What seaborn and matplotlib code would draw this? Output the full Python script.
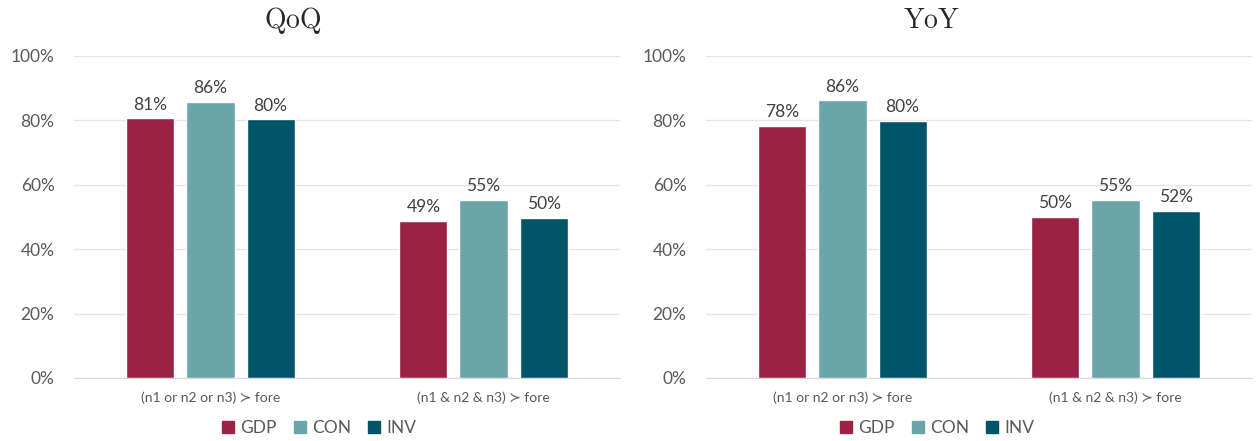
import pandas as pd
import matplotlib.pyplot as plt
import seaborn as sns
from matplotlib.patches import Patch

# data
categories = ["(n1 or n2 or n3) \u227b fore", "(n1 & n2 & n3) \u227b fore"]
series = ["GDP", "CON", "INV"]
qoq_gdp = [0.806, 0.488]
qoq_con = [0.857, 0.553]
qoq_inv = [0.803, 0.497]
yoy_gdp = [0.783, 0.500]
yoy_con = [0.863, 0.553]
yoy_inv = [0.798, 0.519]
colors = ["#9B2242", "#6CA5A7", "#005468"]

sns.set_style("white")
plt.rcParams['font.family'] = ['Lato', 'DejaVu Sans']
plt.rcParams['mathtext.fontset'] = 'cm'


def make_df(gdp, con, inv):
    rows = []
    for name, vals in zip(series, [gdp, con, inv]):
        for c, v in zip(categories, vals):
            rows.append({"cat": c, "series": name, "val": v})
    return pd.DataFrame(rows)


fig = plt.figure(figsize=(12.57, 4.41), dpi=100)
ax1 = fig.add_axes([74 / 1257, 63 / 441, 546 / 1257, 322 / 441])
ax2 = fig.add_axes([706 / 1257, 63 / 441, 546 / 1257, 322 / 441])

panels = [
    (ax1, make_df(qoq_gdp, qoq_con, qoq_inv), "QoQ", 293, 319),
    (ax2, make_df(yoy_gdp, yoy_con, yoy_inv), "YoY", 932, 937),
]

for ax, df, title, tx, lx in panels:
    sns.barplot(data=df, x="cat", y="val", hue="series", hue_order=series,
                palette=colors, saturation=1, width=0.66, gap=0.2,
                legend=False, ax=ax)
    for cont in ax.containers:
        labels = [f"{round(b.get_height() * 100)}%" for b in cont]
        ax.bar_label(cont, labels=labels, padding=4, fontsize=12.5, color="#404040")
    ax.set_ylim(0, 1)
    ax.set_yticks([0, 0.2, 0.4, 0.6, 0.8, 1.0])
    ax.set_yticklabels(["0%", "20%", "40%", "60%", "80%", "100%"])
    ax.yaxis.grid(True, color="#E6E6E6", linewidth=1)
    ax.set_axisbelow(True)
    for s in ["top", "right", "left"]:
        ax.spines[s].set_visible(False)
    ax.spines["bottom"].set_color("#D9D9D9")
    ax.tick_params(axis="y", length=0, pad=14, labelsize=12.5, labelcolor="#595959")
    ax.tick_params(axis="x", length=0, pad=10, labelsize=10, labelcolor="#595959")
    ax.set_xlabel("")
    ax.set_ylabel("")
    fig.text(tx / 1257, 1 - 20 / 441, r"$\mathrm{" + title + "}$",
             fontsize=20, ha="center", va="center")
    handles = [Patch(color=c, label=s) for c, s in zip(colors, series)]
    fig.legend(handles=handles, loc="center", bbox_to_anchor=(lx / 1257, 13 / 441),
               ncol=3, frameon=False, fontsize=12.5, handlelength=0.7,
               handleheight=0.7, handletextpad=0.35, columnspacing=1.0,
               labelcolor="#595959")

fig.savefig("out.png", dpi=100)
